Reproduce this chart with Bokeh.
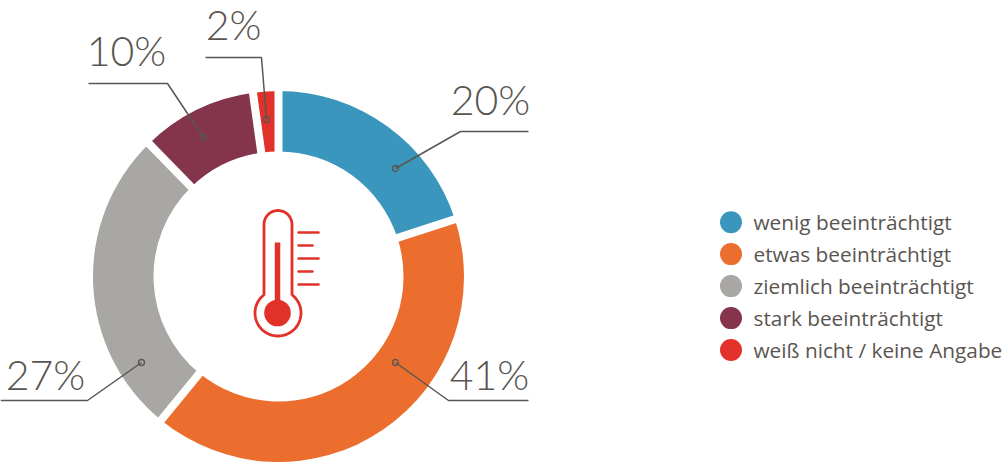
import numpy as np
from bokeh.plotting import figure
from bokeh.core.properties import value
from bokeh.embed import file_html
from bokeh.resources import INLINE

categories = ["wenig beeinträchtigt", "etwas beeinträchtigt", "ziemlich beeinträchtigt", "stark beeinträchtigt", "weiß nicht / keine Angabe"]
values = [20, 40.9, 26.8, 10.1, 2.2]
labels = ["20%", "41%", "27%", "10%", "2%"]
colors = ["#3A96BC", "#EC6E2F", "#A9A7A4", "#84344B", "#E2312B"]

W, H = 1003, 463
INK = "#5A5550"
RED = "#E2312B"
LABEL_FONT = value("Lato Light")
LEGEND_FONT = value("Open Sans")

def Y(y):
    return H - np.asarray(y, dtype=float)

p = figure(width=W, height=H, x_range=(0, W), y_range=(0, H), output_backend="svg",
           toolbar_location=None, x_axis_type=None, y_axis_type=None,
           min_border=0, outline_line_color=None, background_fill_color="white")
p.grid.visible = False
p.styles = {"position": "absolute", "left": "0px", "top": "0px"}

# donut
cx, cy, R, r = 278, 276, 185.5, 125
frac = np.cumsum([0] + values) / sum(values)
starts = np.pi / 2 - 2 * np.pi * frac[:-1]
ends = np.pi / 2 - 2 * np.pi * frac[1:]
p.annular_wedge(x=cx, y=Y(cy), inner_radius=r, outer_radius=R, start_angle=starts, end_angle=ends,
                direction="clock", fill_color=colors, line_color=None)
dx, dy = np.cos(starts), np.sin(starts)
p.segment(cx + (r - 6) * dx, Y(cy) + (r - 6) * dy, cx + (R + 6) * dx, Y(cy) + (R + 6) * dy,
          line_color="white", line_width=8)

# leaders: (points), label position
leaders = [
    ([528, 460, 395], [131, 131, 168]),
    ([528, 448, 395], [400, 400, 362]),
    ([0, 87, 141], [400, 400, 362]),
    ([88, 167, 203], [83, 83, 137]),
    ([205, 261, 266], [57, 57, 119]),
]
label_x = [490, 489, 45, 126, 233]
label_y = [99, 374, 374, 50, 24]
for xs, ys in leaders:
    p.line(xs, Y(ys), line_color=INK, line_width=1.5)
    p.scatter([xs[-1]], Y([ys[-1]]), size=6, fill_color=None, line_color=INK, line_width=1.3)
p.text(label_x, Y(label_y), text=labels, text_font=LABEL_FONT, text_font_size="41px",
       text_color=INK, text_align="center", text_baseline="middle")

# thermometer
tx, tw, tt, by, br = 277.5, 14, 224, 312.5, 23
phi0 = np.arcsin(tw / br)
top = np.linspace(np.pi, 0, 40)
bulb = np.linspace(phi0, 2 * np.pi - phi0, 80)
ox = np.r_[tx + tw * np.cos(top), tx + br * np.sin(bulb)]
oy = np.r_[tt - tw * np.sin(top), by - br * np.cos(bulb)]
ox = np.r_[ox, ox[0]]
oy = np.r_[oy, oy[0]]
p.line(ox, Y(oy), line_color=RED, line_width=2.8)
p.segment([277], Y([242]), [277], Y([312]), line_color=RED, line_width=5.5)
p.circle([277], Y([312.5]), radius=13.3, fill_color=RED, line_color=None)
tick_y = [232, 245, 258, 271, 284]
tick_x1 = [318, 312, 318, 312, 318]
p.segment([298] * 5, Y(tick_y), tick_x1, Y(tick_y), line_color=RED, line_width=2.5, line_cap="round")

# legend
legend_y = [221.7, 253.6, 285.6, 317.6, 349.5]
text_y = [221, 253, 285, 317, 349]
p.circle([730.5] * 5, Y(legend_y), radius=11, fill_color=colors, line_color=None)
p.text([753] * 5, Y(text_y), text=categories, text_font=LEGEND_FONT, text_font_size="20.8px",
       text_color=INK, text_align="left", text_baseline="middle")

open("out.html", "w").write(file_html(p, INLINE))
